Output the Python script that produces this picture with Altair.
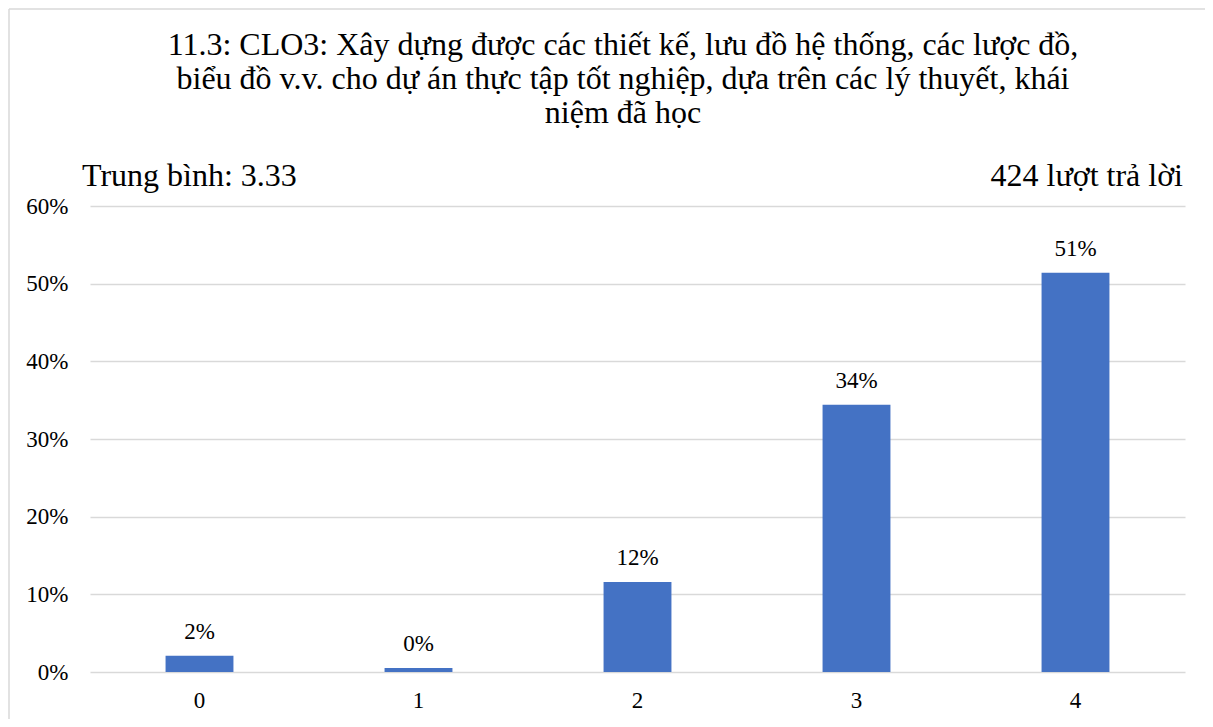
import altair as alt
import pandas as pd

# ---- data ----
categories = ["0", "1", "2", "3", "4"]
percents = [2.1, 0.5, 11.6, 34.4, 51.4]
bar_labels = ["2%", "0%", "12%", "34%", "51%"]
y_ticks = [0, 0.1, 0.2, 0.3, 0.4, 0.5, 0.6]
title_lines = [
    "11.3: CLO3: Xây dựng được các thiết kế, lưu đồ hệ thống, các lược đồ,",
    "biểu đồ v.v. cho dự án thực tập tốt nghiệp, dựa trên các lý thuyết, khái",
    "niệm đã học",
]
mean_text = "Trung bình: 3.33"
count_text = "424 lượt trả lời"

FONT = "Liberation Serif"
BLUE = "#4472c4"
GRID = "#d9d9d9"

df = pd.DataFrame({
    "cat": categories,
    "pct": [p / 100 for p in percents],
    "label": bar_labels,
})

x_enc = alt.X(
    "cat:N", sort=categories,
    scale=alt.Scale(paddingInner=0.69, paddingOuter=0.345),
    axis=alt.Axis(title=None, labelAngle=0, domain=False, ticks=False,
                  labelFont=FONT, labelFontSize=23, labelColor="#000000",
                  labelPadding=17),
)
y_enc = alt.Y(
    "pct:Q",
    scale=alt.Scale(domain=[0, 0.6], nice=False),
    axis=alt.Axis(title=None, format=".0%", values=y_ticks, domain=False,
                  ticks=False, grid=True, gridColor=GRID, gridWidth=1.5,
                  labelFont=FONT, labelFontSize=23, labelColor="#000000",
                  labelPadding=22),
)

base = alt.Chart(df)
bars = base.mark_bar(color=BLUE).encode(x=x_enc, y=y_enc)
texts = base.mark_text(font=FONT, fontSize=23, color="#000000",
                       baseline="alphabetic", dy=-17).encode(
    x=alt.X("cat:N", sort=categories), y="pct:Q", text="label:N"
)

notes_df = pd.DataFrame({"t": [0]})
mean_mark = alt.Chart(notes_df).mark_text(
    font=FONT, fontSize=32, color="#000000", align="left", baseline="middle"
).encode(x=alt.value(-8), y=alt.value(-30), text=alt.value(mean_text))
count_mark = alt.Chart(notes_df).mark_text(
    font=FONT, fontSize=32, color="#000000", align="right", baseline="middle"
).encode(x=alt.value(1093), y=alt.value(-30), text=alt.value(count_text))

title_marks = [
    alt.Chart(notes_df).mark_text(
        font=FONT, fontSize=32, color="#000000", align="center", baseline="middle"
    ).encode(x=alt.value(533), y=alt.value(yv), text=alt.value(line))
    for line, yv in zip(title_lines, [-161, -127, -93])
]

# frame border: only the top and left edges are visible in the reference
border_top = alt.Chart(notes_df).mark_rule(color=GRID, strokeWidth=1.5).encode(
    x=alt.value(-81), x2=alt.value(1140), y=alt.value(-197)
)
border_left = alt.Chart(notes_df).mark_rule(color=GRID, strokeWidth=1.5).encode(
    x=alt.value(-81), y=alt.value(-197), y2=alt.value(560)
)

chart = alt.layer(border_top, border_left, bars, texts, mean_mark, count_mark,
                  *title_marks).properties(
    width=1095,
    height=466,
    autosize=alt.AutoSizeParams(type="none"),
    padding={"left": 82, "top": 198, "right": 20, "bottom": 47},
).configure(font=FONT).configure_view(stroke=None)

chart.save("out.html", embed_options={"renderer": "svg", "actions": False})
